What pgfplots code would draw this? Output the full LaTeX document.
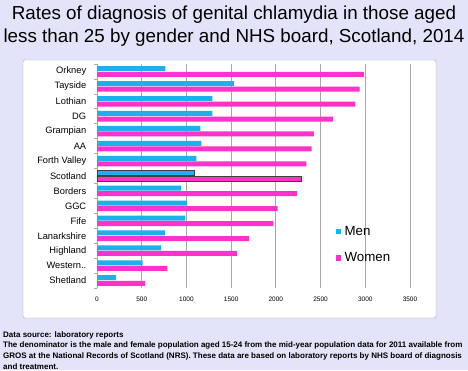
\documentclass[border=0pt]{standalone}
\usepackage{pgfplots}
\pgfplotsset{compat=1.18}
\usepackage{fontspec}
\setmainfont{Liberation Sans}
\definecolor{bgc}{HTML}{E3E3F9}
\definecolor{menc}{HTML}{1EB0EC}
\definecolor{womc}{HTML}{FF33CC}
\definecolor{gridc}{HTML}{A8A8A8}
\begin{document}
\begin{tikzpicture}
\fill[bgc] (0pt,0pt) rectangle (468pt,370pt);
\draw[gray!70,fill=white,rounded corners=1.5pt] (23pt,52pt) rectangle (436pt,310pt);
\node[font=\fontsize{18.8}{22.5}\selectfont,align=center] at (234pt,344pt) {Rates of diagnosis of genital chlamydia in those aged\\less than 25 by gender and NHS board, Scotland, 2014};
\node[font=\fontsize{8}{10.9}\selectfont\bfseries,align=left,anchor=north west,inner sep=0pt] at (3pt,39pt) {Data source: laboratory reports\\The denominator is the male and female population aged 15-24 from the mid-year population data for 2011 available from\\GROS at the National Records of Scotland (NRS). These data are based on laboratory reports by NHS board of diagnosis\\and treatment.};
\begin{axis}[
  at={(97pt,82pt)}, anchor=south west,
  scale only axis, width=313pt, height=224pt,
  xmin=0, xmax=3500, ymin=-0.5, ymax=14.5,
  xtick={0,500,...,3500},
  ytick={0,...,14},
  yticklabels={Shetland,Western..,Highland,Lanarkshire,Fife,GGC,Borders,Scotland,Forth Valley,AA,Grampian,DG,Lothian,Tayside,Orkney},
  /pgf/number format/assume math mode=true,
  /pgf/number format/1000 sep={},
  axis lines*=left,
  x axis line style={draw=none},
  y axis line style={gridc,line width=0.8pt,-},
  xmajorgrids, major grid style={gridc,line width=1pt},
  minor ytick={-0.5,0.5,...,14.5},
  major tick style={draw=none},
  minor y tick style={gridc,line width=0.6pt},
  minor tick length=3pt,
  tick align=outside,
  yticklabel style={font=\fontsize{9.3}{10}\selectfont, xshift=-3pt},
  xticklabel style={font=\fontsize{6.5}{8}\selectfont, yshift=-1pt},
  bar width=5pt,
  legend style={at={(0.752,0.295)}, anchor=north west, draw=none, fill=none,
    font=\fontsize{13.3}{15}\selectfont, row sep=12pt, column sep=1.5pt},
  legend cell align=left,
]
\addplot[xbar, bar shift=2.8pt, fill=menc, draw=none,
  legend image code/.code={\fill[menc] (0pt,-2.7pt) rectangle (5.5pt,2.7pt);}]
  coordinates {(213,0) (511,1) (716,2) (761,3) (988,4) (1007,5) (940,6) (1085,7) (1111,8) (1167,9) (1156,10) (1290,11) (1290,12) (1532,13) (764,14)};
\addlegendentry{Men}
\addplot[xbar, bar shift=-2.8pt, fill=womc, draw=none,
  legend image code/.code={\fill[womc] (0pt,-2.7pt) rectangle (5.5pt,2.7pt);}]
  coordinates {(537,0) (787,1) (1566,2) (1700,3) (1972,4) (2021,5) (2237,6) (2289,7) (2342,8) (2401,9) (2424,10) (2640,11) (2890,12) (2938,13) (2985,14)};
\addlegendentry{Women}
\addplot[xbar, bar shift=2.8pt, fill=menc, draw=black!75, line width=0.8pt, forget plot]
  coordinates {(1085,7)};
\addplot[xbar, bar shift=-2.8pt, fill=womc, draw=black!75, line width=0.8pt, forget plot]
  coordinates {(2289,7)};
\end{axis}
\end{tikzpicture}
\end{document}
